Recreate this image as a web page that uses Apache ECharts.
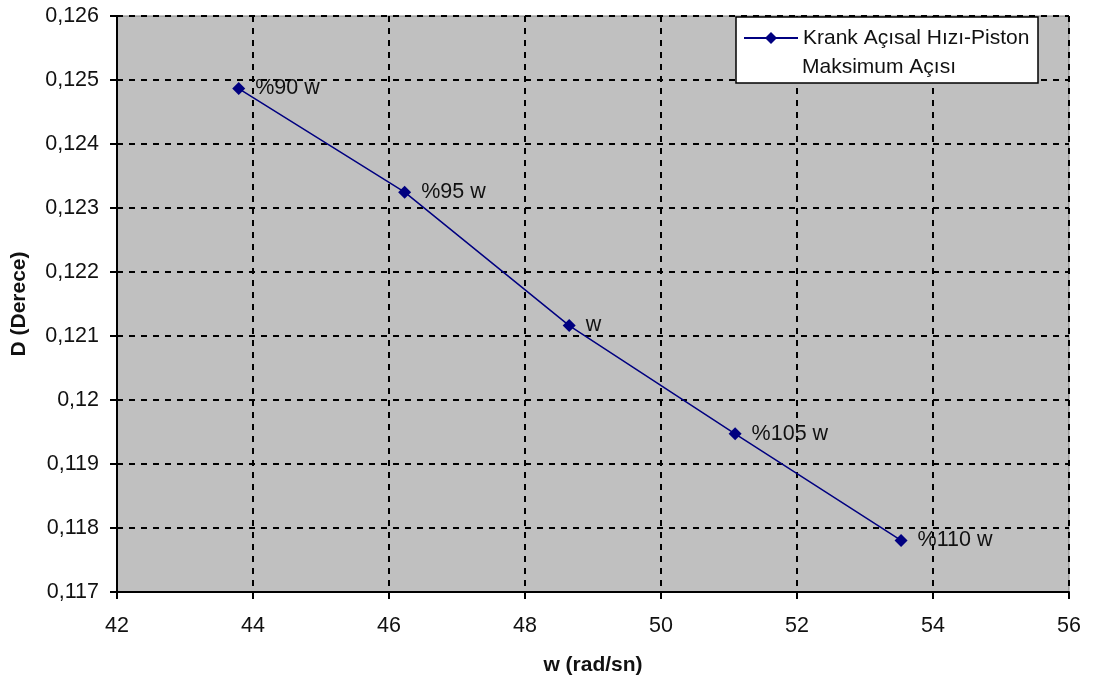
<!DOCTYPE html>
<html>
<head>
<meta charset="utf-8">
<script src="https://cdn.jsdelivr.net/npm/echarts@6/dist/echarts.min.js"></script>
<style>html,body{margin:0;padding:0;background:#fff}#c{width:1096px;height:682px}</style>
</head>
<body>
<div id="c"></div>
<script>
const wValues = [43.79, 46.23, 48.65, 51.09, 53.53];
const dValues = [0.124867, 0.123248, 0.121163, 0.119471, 0.117806];
const pointLabels = ['%90 w', '%95 w', 'w', '%105 w', '%110 w'];
const seriesName = 'Krank Açısal Hızı-Piston';
const legendLine2 = 'Maksimum Açısı';
const xTitle = 'w (rad/sn)';
const yTitle = 'D (Derece)';

const font = 'Liberation Sans, Arial, sans-serif';
const chart = echarts.init(document.getElementById('c'));
chart.setOption({
  animation: false,
  backgroundColor: '#ffffff',
  grid: {
    left: 117, top: 16, right: 27, bottom: 90,
    show: true, backgroundColor: '#c0c0c0', borderColor: '#808080', borderWidth: 1
  },
  graphic: [
    {
      type: 'rect', z: 3,
      shape: { x: 736, y: 17, width: 302, height: 66 },
      style: { fill: '#ffffff', stroke: '#000000', lineWidth: 1.5 }
    },
    {
      type: 'text', z: 5,
      x: 802, y: 67,
      style: {
        text: legendLine2, fontFamily: font, fontSize: 21, fill: '#111',
        verticalAlign: 'middle', align: 'left'
      }
    }
  ],
  legend: {
    left: 743, top: 23,
    padding: 0,
    itemWidth: 54, itemHeight: 15,
    textStyle: { fontFamily: font, fontSize: 21, color: '#111', lineHeight: 30 },
    data: [seriesName]
  },
  xAxis: {
    type: 'value', min: 42, max: 56, interval: 2,
    name: xTitle, nameLocation: 'middle', nameGap: 63,
    nameTextStyle: { fontFamily: font, fontSize: 21, fontWeight: 'bold', color: '#111' },
    axisLine: { onZero: false, lineStyle: { color: '#000', width: 2 } },
    axisTick: { length: 7, lineStyle: { color: '#000', width: 2 } },
    axisLabel: { fontFamily: font, fontSize: 21.5, color: '#111', margin: 23 },
    splitLine: { show: true, lineStyle: { color: '#000', type: [6, 6], width: 2 } }
  },
  yAxis: {
    type: 'value', min: 0.117, max: 0.126, interval: 0.001,
    name: yTitle, nameLocation: 'middle', nameGap: 87,
    nameTextStyle: { fontFamily: font, fontSize: 21, fontWeight: 'bold', color: '#111' },
    axisLine: { show: true, onZero: false, lineStyle: { color: '#000', width: 2 } },
    axisTick: { show: true, length: 7, lineStyle: { color: '#000', width: 2 } },
    axisLabel: {
      fontFamily: font, fontSize: 21.5, color: '#111', margin: 18,
      formatter: v => String(parseFloat(v.toFixed(3))).replace('.', ',')
    },
    splitLine: { show: true, lineStyle: { color: '#000', type: [6, 6], width: 2 } }
  },
  series: [{
    name: seriesName,
    type: 'line',
    data: wValues.map((w, i) => [w, dValues[i]]),
    symbol: 'diamond', symbolSize: 13,
    itemStyle: { color: '#000080' },
    lineStyle: { color: '#000080', width: 1.5 },
    label: {
      show: true, position: 'right', distance: 10,
      formatter: p => pointLabels[p.dataIndex],
      fontFamily: font, fontSize: 21.5, color: '#111'
    }
  }]
});
</script>
</body>
</html>
